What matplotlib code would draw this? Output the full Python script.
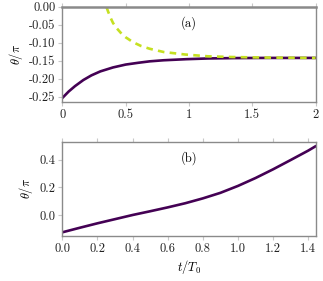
import numpy as np
import matplotlib
matplotlib.use('Agg')
import matplotlib.pyplot as plt
from matplotlib.ticker import FormatStrFormatter

plt.rcParams['font.family'] = 'serif'
plt.rcParams['font.serif'] = ['cmr10', 'DejaVu Serif']
plt.rcParams['mathtext.fontset'] = 'cm'
plt.rcParams['axes.unicode_minus'] = False
plt.rcParams['axes.formatter.use_mathtext'] = False
plt.rcParams['font.size'] = 9

# panel (a): values
t_a = [0.0, 0.05, 0.1, 0.166, 0.23, 0.30, 0.4, 0.5, 0.6, 0.69, 0.8, 0.98, 1.15, 1.35, 1.6, 2.0]
theta_a = [-0.254, -0.236, -0.221, -0.204, -0.191, -0.180, -0.169, -0.161, -0.156, -0.152,
           -0.149, -0.146, -0.1440, -0.1430, -0.1425, -0.1425]

t_dash = [0.35, 0.36, 0.38, 0.40, 0.43, 0.47, 0.5, 0.56, 0.62, 0.69, 0.8, 0.97, 1.15, 1.34, 1.6, 2.0]
theta_dash = [-0.002, -0.012, -0.030, -0.045, -0.060, -0.076, -0.085, -0.099, -0.109, -0.117,
              -0.126, -0.133, -0.138, -0.140, -0.1415, -0.1425]

# panel (b)
t_b = [0.0, 0.1, 0.2, 0.3, 0.4, 0.5, 0.6, 0.7, 0.8, 0.9, 1.0, 1.1, 1.2, 1.3, 1.4, 1.44]
theta_b = [-0.125, -0.092, -0.060, -0.030, 0.000, 0.027, 0.055, 0.085, 0.120, 0.160,
           0.210, 0.267, 0.330, 0.397, 0.465, 0.495]

purple = '#440154'
lime = '#c5e021'
grey = '#8a8a8a'

fig = plt.figure(figsize=(3.23, 2.81), dpi=100)
ax1 = fig.add_axes([0.193, 0.636, 0.784, 0.340])
ax2 = fig.add_axes([0.193, 0.160, 0.784, 0.336])

ax1.plot(t_a, theta_a, color=purple, lw=1.9)
ax1.plot(t_dash, theta_dash, color=lime, lw=1.9, ls=(0, (2.5, 2.0)))
ax1.set_xlim(0, 2)
ax1.set_ylim(-0.266, 0.0)
ax1.set_xticks([0, 0.5, 1, 1.5, 2])
ax1.set_xticklabels(['0', '0.5', '1', '1.5', '2'])
ax1.set_yticks([0.0, -0.05, -0.10, -0.15, -0.20, -0.25])
ax1.yaxis.set_major_formatter(FormatStrFormatter('%.2f'))
ax1.set_ylabel(r'$\theta/\pi$', labelpad=3)
ax1.text(0.5, 0.83, '(a)', transform=ax1.transAxes, ha='center', va='center')

ax2.plot(t_b, theta_b, color=purple, lw=1.9)
ax2.set_xlim(0, 1.442)
ax2.set_ylim(-0.152, 0.53)
ax2.set_xticks(np.arange(0, 1.41, 0.2))
ax2.xaxis.set_major_formatter(FormatStrFormatter('%.1f'))
ax2.set_yticks([0.0, 0.2, 0.4])
ax2.yaxis.set_major_formatter(FormatStrFormatter('%.1f'))
ax2.set_ylabel(r'$\theta/\pi$', labelpad=3)
ax2.set_xlabel(r'$t/T_0$', labelpad=2)
ax2.text(0.5, 0.83, '(b)', transform=ax2.transAxes, ha='center', va='center')

for ax in (ax1, ax2):
    for s in ax.spines.values():
        s.set_color(grey)
        s.set_linewidth(1.0)
    ax.tick_params(direction='out', length=3, width=0.8, color='#c8c8c8',
                   top=True, bottom=True, left=True, right=False, pad=2, labelcolor='#222222')
ax1.spines['top'].set_linewidth(1.8)

fig.savefig('out.png', dpi=100)
